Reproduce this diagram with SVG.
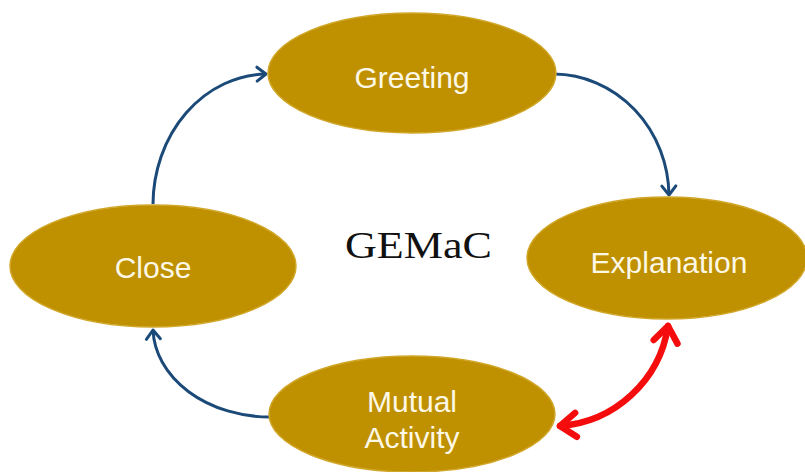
<svg xmlns="http://www.w3.org/2000/svg" width="805" height="472" viewBox="0 0 805 472">
  <style>
    .node { fill: #bf9000; stroke: #d1a72a; stroke-width: 1.5; }
    .label { font-family: "Liberation Sans", Arial, sans-serif; font-size: 30px; fill: #fdf8e6; text-anchor: middle; }
    .flow { fill: none; stroke: #1b4a78; stroke-width: 3; }
    .link { fill: none; stroke: #f50c0c; stroke-width: 6.5; stroke-linecap: round; }
    .title { font-family: "Liberation Serif", "Times New Roman", serif; font-size: 38px; fill: #111111; }
  </style>
  <defs>
    <marker id="arrowBlue" markerUnits="userSpaceOnUse" markerWidth="24" markerHeight="24" viewBox="-14 -12 18 24" refX="0" refY="0" orient="auto">
      <path d="M -9,-7 L 0,0 L -9,7" fill="none" stroke="#1b4a78" stroke-width="3" stroke-linecap="round" stroke-linejoin="round"/>
    </marker>
    <marker id="arrowRed" markerUnits="userSpaceOnUse" markerWidth="40" markerHeight="40" viewBox="-22 -20 28 40" refX="0" refY="0" orient="auto-start-reverse">
      <path d="M -16,-12 L 0,0 L -16,12" fill="none" stroke="#f50c0c" stroke-width="6.5" stroke-linecap="round" stroke-linejoin="round"/>
    </marker>
  </defs>
  <rect width="805" height="472" fill="#ffffff"/>

  <g id="connectors">
    <path class="flow" d="M 153,204 A 115 131 0 0 1 266,74" marker-end="url(#arrowBlue)"/>
    <path class="flow" d="M 554,74 A 116 123 0 0 1 669,195" marker-end="url(#arrowBlue)"/>
    <path class="flow" d="M 270,417 A 117 90 0 0 1 153,330" marker-end="url(#arrowBlue)"/>
    <path class="link" d="M 668,326 A 118 118 0 0 1 560,426" marker-start="url(#arrowRed)" marker-end="url(#arrowRed)"/>
  </g>

  <g id="greeting">
    <ellipse class="node" cx="412" cy="73" rx="144" ry="60"/>
    <text class="label" x="412" y="88">Greeting</text>
  </g>

  <g id="explanation">
    <ellipse class="node" cx="667" cy="258" rx="140" ry="61"/>
    <text class="label" x="669" y="273">Explanation</text>
  </g>

  <g id="close">
    <ellipse class="node" cx="153" cy="266" rx="143" ry="61"/>
    <text class="label" x="153" y="278">Close</text>
  </g>

  <g id="mutual-activity">
    <ellipse class="node" cx="412" cy="414" rx="143" ry="58"/>
    <text class="label" x="412" y="412">Mutual</text>
    <text class="label" x="412" y="448">Activity</text>
  </g>

  <g id="title">
    <text class="title" x="345" y="258" textLength="147" lengthAdjust="spacingAndGlyphs">GEMaC</text>
  </g>
</svg>
